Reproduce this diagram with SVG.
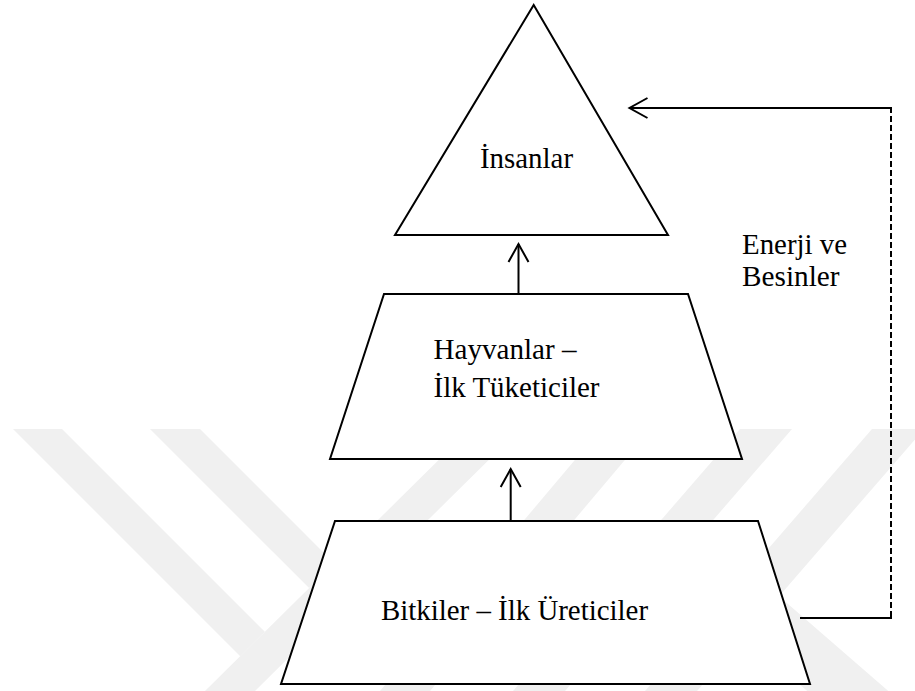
<svg xmlns="http://www.w3.org/2000/svg" width="915" height="691" viewBox="0 0 915 691">
  <style>
    .shape { fill: #ffffff; stroke: #000000; stroke-width: 2; stroke-linejoin: miter; }
    .wm { fill: #f0f0f0; stroke: none; }
    .txt { font-family: 'Liberation Serif', 'Times New Roman', Times, serif; font-size: 29px; fill: #000000; }
    .line { fill: none; stroke: #000000; stroke-width: 2; }
    .dash { fill: none; stroke: #000000; stroke-width: 2; stroke-dasharray: 6 3; }
  </style>
  <defs>
    <marker id="openArrow" markerUnits="userSpaceOnUse" viewBox="-22 -13 24 26" refX="0" refY="0" markerWidth="24" markerHeight="26" orient="auto" overflow="visible">
      <path d="M -18 -10 L 0 0 L -18 10" fill="none" stroke="#000000" stroke-width="2"/>
    </marker>
  </defs>

  <rect x="0" y="0" width="915" height="691" fill="#ffffff"/>

  <g id="watermark">
    <polygon class="wm" points="13,429 62,429 264.8,631.8 240.2,656.2"/>
    <polygon class="wm" points="150,429 200,429 334.2,563.2 309.1,588.1"/>
    <polygon class="wm" points="470,429 520,429 255,691 205,691"/>
    <polygon class="wm" points="601,429 651,429 430,691 380,691"/>
    <polygon class="wm" points="740,429 792,429 565,691 513,691"/>
    <polygon class="wm" points="872,429 924,429 697,691 645,691"/>
    <polygon class="wm" points="778.8,595.9 888.3,691 807.2,691 714.3,610.3"/>
  </g>

  <g id="node-insanlar">
    <polygon class="shape" points="533.7,5 668,235 395,235"/>
    <text class="txt" x="480" y="168" textLength="93" lengthAdjust="spacingAndGlyphs">İnsanlar</text>
  </g>

  <g id="node-hayvanlar">
    <polygon class="shape" points="384,294 688,294 742,459 330,459"/>
    <text class="txt" x="433.5" y="359" textLength="143" lengthAdjust="spacingAndGlyphs">Hayvanlar –</text>
    <text class="txt" x="433.5" y="397" textLength="166" lengthAdjust="spacingAndGlyphs">İlk Tüketiciler</text>
  </g>

  <g id="node-bitkiler">
    <polygon class="shape" points="335,521 758,521 810,684 281,684"/>
    <text class="txt" x="381" y="620" textLength="267" lengthAdjust="spacingAndGlyphs">Bitkiler – İlk Üreticiler</text>
  </g>

  <g id="connectors">
    <path class="line" d="M 518.5 294 L 518.5 244" marker-end="url(#openArrow)"/>
    <path class="line" d="M 510.7 521 L 510.7 469" marker-end="url(#openArrow)"/>
    <path class="line" d="M 800 618 L 892 618"/>
    <path class="dash" d="M 891 617 L 891 109"/>
    <path class="line" d="M 892 108 L 629.5 108" marker-end="url(#openArrow)"/>
  </g>

  <g id="label-enerji">
    <text class="txt" x="742" y="254" textLength="105" lengthAdjust="spacingAndGlyphs">Enerji ve</text>
    <text class="txt" x="742" y="286" textLength="97.5" lengthAdjust="spacingAndGlyphs">Besinler</text>
  </g>
</svg>
